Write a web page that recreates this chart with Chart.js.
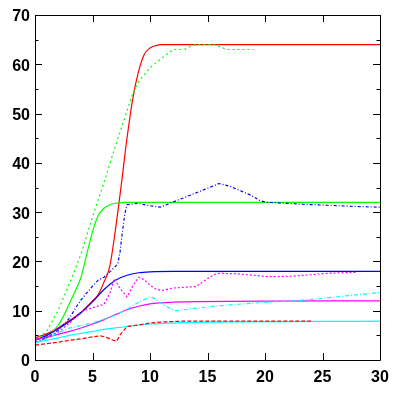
<!DOCTYPE html>
<html>
<head>
<meta charset="utf-8">
<script src="https://cdn.jsdelivr.net/npm/chart.js@4/dist/chart.umd.min.js"></script>
<style>
html,body{margin:0;padding:0;background:#fff;}
#wrap{width:400px;height:394px;position:relative;}
</style>
</head>
<body>
<div id="wrap"><canvas id="c" width="400" height="394"></canvas></div>
<script>
// ---- data ----
const xTicks = [0, 5, 10, 15, 20, 25, 30];
const yTicks = [0, 10, 20, 30, 40, 50, 60, 70];

const redFitX = [0,1,2,3,4,5,5.5,6,6.5,7,7.5,8,8.5,9,9.5,10,10.5,11,30];
const redFitY = [4.5,5.3,6.5,8,9.7,12,13.3,15.8,19,26.5,35.5,45,53,58.5,62,63.3,63.8,64,64];

const greenFitX = [0,1,2,2.5,3,3.5,4,4.5,5,5.5,6,6.5,7,8,30];
const greenFitY = [4,4.8,7,9,11.5,14,16.8,21.5,26,29.3,30.8,31.5,31.8,32,32];

const blueFitX = [0,1,2,3,4,5,6,7,8,9,10,12,30];
const blueFitY = [4,5,6.3,7.8,9.6,11.8,14.3,16.2,17.2,17.7,17.9,18,18];

const magentaFitX = [0,1,2,3,4,5,6,7,8,9,10,11,13,30];
const magentaFitY = [4.2,4.6,5.2,5.8,6.5,7.3,8.2,9.2,10.2,10.9,11.4,11.6,11.8,12];

const cyanFitX = [0,1,2,3,4,5,6,7,8,9,10,11,13,30];
const cyanFitY = [3.5,4,4.5,5,5.4,5.8,6.2,6.5,6.8,7.1,7.3,7.4,7.6,7.9];

const greenObsX = [0,1,2,3,4,5,6,7,8,8.5,9,10,11,12,13,13.5,14,15.5,16,16.7,19];
const greenObsY = [4,5.8,10,15.5,21.5,29,36,43.5,50.5,54,56.5,59.3,61.2,63,63,63.6,64,64,63.6,63,63];

const blueObsX = [0,1,2,3,3.6,4,5,5.5,6,6.7,7.2,7.4,7.6,7.8,8,9,9.7,10.9,16,17,18.7,19.6,20.1,23.3,25.4,27.4,30];
const blueObsY = [3.5,4.5,6,8.5,10.8,12.2,15,16.2,16.8,18.3,19.5,22,26,29.5,31.5,31.8,31.4,31,35.8,35.2,33.5,32.3,32,31.6,31.4,31.2,31];

const magentaObsX = [0,1,2,3,4,5,6,6.5,6.9,7.4,8,8.5,9,9.5,10,10.5,11,12,14,15,15.8,17.5,19,20.3,22.3,24,25.5,28];
const magentaObsY = [4,4.6,5.6,7.5,9.8,10.6,11.3,13.5,16.5,14.5,12.8,15,16.8,16.3,15.2,14.4,14.1,14.6,14.9,16.5,17.6,17.5,17.2,16.9,17,17.3,17.6,17.8];

const cyanObsX = [0,1,2,3,4,5,6,7,8,9,10,10.4,11,11.7,12.2,13,15,17,20,22.5,25,27,30];
const cyanObsY = [3.5,4.3,5.5,6.5,7,7.5,8.3,9.1,10.3,11.7,12.8,12.5,11.5,10.5,10,10.2,10.8,11.2,11.7,12,12.5,13,13.7];

const redObsX = [0,1,2,3,4,5,5.7,6.2,6.8,7.1,7.4,8,9,10,11,12,13,24];
const redObsY = [3,3.3,3.6,4,4.3,4.7,4.9,4.6,4,3.8,5.1,6.8,7.1,7.5,7.7,7.8,7.9,7.9];

function pts(xs, ys){ return xs.map((x,i)=>({x:x, y:ys[i]})); }

function ds(xs, ys, color, dash, smooth){
  return {
    data: pts(xs, ys),
    borderColor: color,
    backgroundColor: color,
    borderWidth: 1.2,
    borderDash: dash,
    pointRadius: 0,
    fill: false,
    tension: 0,
    cubicInterpolationMode: smooth ? 'monotone' : 'default'
  };
}

const datasets = [
  ds(cyanObsX, cyanObsY, '#00ffff', [4,2,1,2], false),
  ds(magentaObsX, magentaObsY, '#ff00ff', [2,2], false),
  ds(redObsX, redObsY, '#ff0000', [4,2], false),
  ds(blueObsX, blueObsY, '#0000ff', [3,2,1,2], false),
  ds(greenObsX, greenObsY, '#00ff00', [2,3], false),
  ds(cyanFitX, cyanFitY, '#00ffff', [], true),
  ds(magentaFitX, magentaFitY, '#ff00ff', [], true),
  ds(blueFitX, blueFitY, '#0000ff', [], true),
  ds(greenFitX, greenFitY, '#00ff00', [], true),
  ds(redFitX, redFitY, '#ff0000', [], true)
];

const frame = {
  id: 'frame',
  beforeDraw(chart){
    const c = chart.ctx;
    c.save(); c.fillStyle = '#fff'; c.fillRect(0,0,chart.width,chart.height); c.restore();
  },
  afterDatasetsDraw(chart){
    const c = chart.ctx, a = chart.chartArea;
    const xs = chart.scales.x, ys = chart.scales.y;
    c.save();
    c.strokeStyle = '#000';
    c.lineWidth = 1;
    c.beginPath();
    c.rect(Math.round(a.left)+0.5, Math.round(a.top)+0.5, Math.round(a.right-a.left), Math.round(a.bottom-a.top));
    c.stroke();
    c.beginPath();
    const L = 7, m = 3.5;
    xTicks.forEach(v=>{
      const px = Math.round(xs.getPixelForValue(v))+0.5;
      c.moveTo(px, a.bottom); c.lineTo(px, a.bottom-L);
      c.moveTo(px, a.top); c.lineTo(px, a.top+L);
    });
    for (let v = 0; v <= 70; v += 5){
      const py = Math.round(ys.getPixelForValue(v))+0.5;
      const len = (v % 10 === 0) ? L : m;
      c.moveTo(a.left, py); c.lineTo(a.left+len, py);
      c.moveTo(a.right, py); c.lineTo(a.right-len, py);
    }
    c.stroke();
    c.restore();
  }
};

new Chart(document.getElementById('c'), {
  type: 'line',
  data: { datasets: datasets },
  options: {
    responsive: false,
    animation: false,
    devicePixelRatio: 1,
    layout: { padding: { left: 0, right: 20, top: 15, bottom: 0 } },
    plugins: { legend: { display: false }, tooltip: { enabled: false }, title: { display: false } },
    scales: {
      x: {
        type: 'linear', min: 0, max: 30,
        afterBuildTicks: (s)=>{ s.ticks = xTicks.map(v=>({value:v})); },
        afterFit: (s)=>{ s.height = 34; },
        grid: { display: false, drawTicks: false },
        border: { display: false },
        ticks: { color: '#000', padding: 8, maxRotation: 0, font: { family: 'Liberation Sans', size: 16, weight: 'bold' } }
      },
      y: {
        type: 'linear', min: 0, max: 70,
        afterBuildTicks: (s)=>{ s.ticks = yTicks.map(v=>({value:v})); },
        afterFit: (s)=>{ s.width = 35; },
        grid: { display: false, drawTicks: false },
        border: { display: false },
        ticks: { color: '#000', padding: 5, labelOffset: 2, font: { family: 'Liberation Sans', size: 16, weight: 'bold' } }
      }
    }
  },
  plugins: [frame]
});
</script>
</body>
</html>
